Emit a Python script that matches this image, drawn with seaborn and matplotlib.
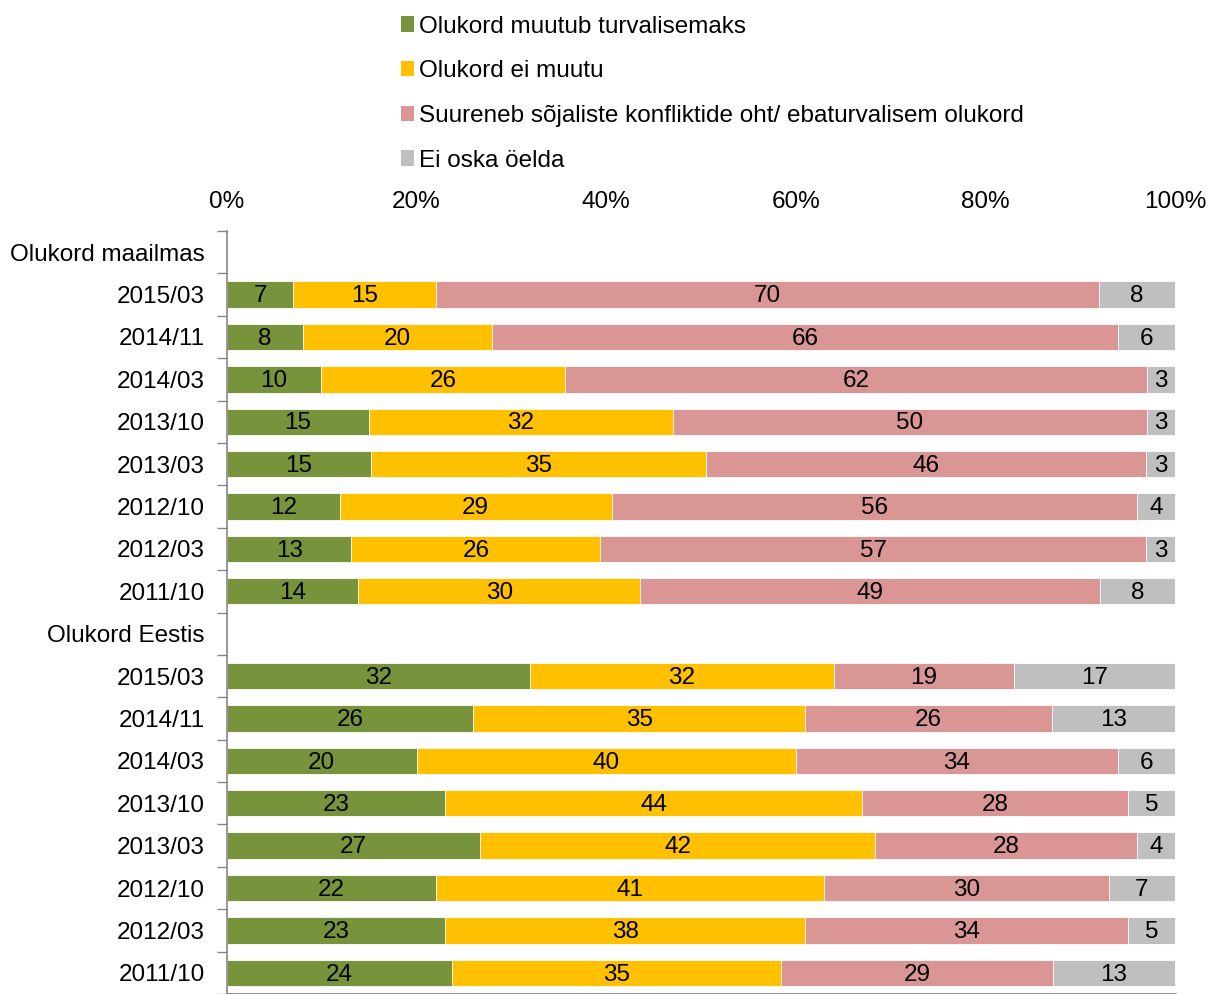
import pandas as pd
import numpy as np
import matplotlib.pyplot as plt
import seaborn as sns
from matplotlib.patches import Patch
from matplotlib.ticker import FixedLocator

# data
periods = ["2015/03", "2014/11", "2014/03", "2013/10", "2013/03", "2012/10", "2012/03", "2011/10"]
groups = ["Olukord maailmas", "Olukord Eestis"]
series = ["Olukord muutub turvalisemaks", "Olukord ei muutu",
          "Suureneb sõjaliste konfliktide oht/ ebaturvalisem olukord", "Ei oska öelda"]
colors = ["#77933C", "#FFC000", "#D99694", "#BFBFBF"]

world_safer = [7, 8, 10, 15, 15, 12, 13, 14]
world_same = [15, 20, 26, 32, 35, 29, 26, 30]
world_risk = [70, 66, 62, 50, 46, 56, 57, 49]
world_dk = [8, 6, 3, 3, 3, 4, 3, 8]

est_safer = [32, 26, 20, 23, 27, 22, 23, 24]
est_same = [32, 35, 40, 44, 42, 41, 38, 35]
est_risk = [19, 26, 34, 28, 28, 30, 34, 29]
est_dk = [17, 13, 6, 5, 4, 7, 5, 13]

# build table, header rows get no bars
keys = ["h_w"] + ["w_" + p for p in periods] + ["h_e"] + ["e_" + p for p in periods]
tick_labels = [groups[0]] + periods + [groups[1]] + periods

df = pd.DataFrame({
    "key": ["w_" + p for p in periods] + ["e_" + p for p in periods],
    "s0": world_safer + est_safer,
    "s1": world_same + est_same,
    "s2": world_risk + est_risk,
    "s3": world_dk + est_dk,
})
cols = ["s0", "s1", "s2", "s3"]
tot = df[cols].sum(axis=1)
for c in cols:
    df["p" + c] = df[c] / tot * 100
cum = df[["p" + c for c in cols]].cumsum(axis=1)
for i, c in enumerate(cols):
    df["cum" + c] = cum.iloc[:, i]

sns.set_theme(style="white")
plt.rcParams["font.family"] = ["Liberation Sans", "DejaVu Sans"]
plt.rcParams["text.color"] = "black"
plt.rcParams["xtick.color"] = "black"
plt.rcParams["ytick.color"] = "black"
FS = 17.5

fig = plt.figure(figsize=(12.09, 9.94), dpi=100)
ax = fig.add_axes([227 / 1209, 0.0, (1175 - 227) / 1209, 1 - 231 / 994])

# stacked bars: draw cumulative totals from largest to smallest
for i in range(3, -1, -1):
    sns.barplot(data=df, x="cum" + cols[i], y="key", order=keys, orient="h",
                color=colors[i], saturation=1, width=0.62, errorbar=None,
                edgecolor="white", linewidth=0.6, ax=ax)

# value labels in segment centres
ypos = {k: j for j, k in enumerate(keys)}
for _, r in df.iterrows():
    left = 0
    for c in cols:
        w = r["p" + c]
        ax.text(left + w / 2, ypos[r["key"]] + 0.04, f"{int(r[c])}",
                ha="center", va="center", fontsize=FS, color="black")
        left += w

ax.set_xlim(0, 100)
ax.set_ylim(17.5, -0.5)
ax.set_xlabel("")
ax.set_ylabel("")
ax.xaxis.tick_top()
ax.set_xticks([0, 20, 40, 60, 80, 100])
ax.set_xticklabels(["0%", "20%", "40%", "60%", "80%", "100%"], fontsize=FS)
ax.tick_params(axis="x", length=0, pad=13)

ax.set_yticks(range(len(keys)))
ax.set_yticklabels(tick_labels, fontsize=FS)
ax.yaxis.set_minor_locator(FixedLocator(np.arange(-0.5, 17.6, 1)))
ax.tick_params(axis="y", which="major", length=0, pad=16)
ax.tick_params(axis="y", which="minor", length=7, width=1, color="#868686", left=True)

for s in ["top", "right"]:
    ax.spines[s].set_visible(False)
ax.spines["left"].set_color("#868686")
ax.spines["bottom"].set_color("#868686")
ax.spines["left"].set_linewidth(1.2)
ax.spines["bottom"].set_linewidth(2)
ax.grid(False)

handles = [Patch(facecolor=c, edgecolor="none") for c in colors]
fig.legend(handles, series, loc="upper left", bbox_to_anchor=(391 / 1209, 1 - 6 / 994),
           frameon=False, fontsize=FS, handlelength=0.55, handleheight=0.6,
           handletextpad=0.2, labelspacing=0.93, borderaxespad=0)

fig.savefig("out.png", dpi=100)
